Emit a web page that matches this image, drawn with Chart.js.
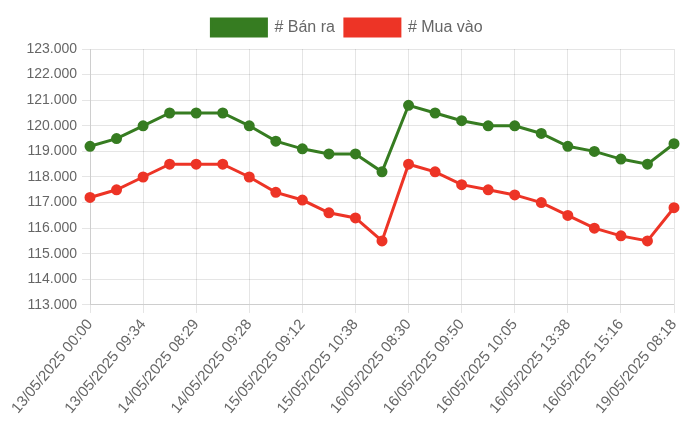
<!DOCTYPE html>
<html><head><meta charset="utf-8">
<script src="https://cdn.jsdelivr.net/npm/chart.js@4"></script>
<style>html,body{margin:0;padding:0;background:#fff}#wrap{width:700px;height:441px}</style>
</head><body><div id="wrap"><canvas id="c"></canvas></div>
<script>
const labels = ["13/05/2025 00:00","13/05/2025 08:45","13/05/2025 09:34","14/05/2025 00:00","14/05/2025 08:29","14/05/2025 09:05","14/05/2025 09:28","15/05/2025 00:00","15/05/2025 09:12","15/05/2025 09:45","15/05/2025 10:38","16/05/2025 00:00","16/05/2025 08:30","16/05/2025 09:15","16/05/2025 09:50","16/05/2025 10:00","16/05/2025 10:05","16/05/2025 11:20","16/05/2025 13:38","16/05/2025 14:30","16/05/2025 15:16","17/05/2025 00:00","19/05/2025 08:18"];
const banRa = [119200,119500,120000,120500,120500,120500,120000,119400,119100,118900,118900,118200,120800,120500,120200,120000,120000,119700,119200,119000,118700,118500,119300];
const muaVao = [117200,117500,118000,118500,118500,118500,118000,117400,117100,116600,116400,115500,118500,118200,117700,117500,117300,117000,116500,116000,115700,115500,116800];
const green = "rgb(54,124,33)";
const red = "rgb(237,52,38)";
Chart.defaults.font.family = "'Liberation Sans', Arial, sans-serif";
Chart.defaults.font.size = 14;
Chart.defaults.color = "#666";
new Chart(document.getElementById('c'), {
  type: 'line',
  data: { labels: labels, datasets: [
    { label: '# Bán ra', data: banRa, borderColor: green, backgroundColor: green, borderWidth: 3, pointRadius: 4, pointBackgroundColor: green, fill: false, tension: 0 },
    { label: '# Mua vào', data: muaVao, borderColor: red, backgroundColor: red, borderWidth: 3, pointRadius: 4, pointBackgroundColor: red, fill: false, tension: 0 }
  ]},
  options: {
    responsive: true, maintainAspectRatio: false, animation: false,
    layout: { padding: { right: 26, left: 20, top: 9, bottom: 21 } },
    plugins: { legend: { labels: { boxWidth: 55, boxHeight: 17, padding: 10, font: { size: 16 } } , padding: 0}, tooltip: { enabled: false } },
    scales: {
      x: { grid: { color: 'rgba(0,0,0,0.1)' }, ticks: { font: { size: 15 }, maxRotation: 50, minRotation: 50, autoSkip: true, maxTicksLimit: 12 } },
      y: { min: 113000, max: 123000, grid: { color: 'rgba(0,0,0,0.1)' },
           afterFit: s => { s.width = 70; },
           ticks: { stepSize: 1000, padding: 5, font: { size: 14 }, callback: v => v.toLocaleString('vi-VN') } }
    }
  },
  plugins: [{ id: 'legendGap', beforeInit(chart) { const fit = chart.legend.fit; chart.legend.fit = function() { fit.bind(chart.legend)(); this.height += 3; }; } }]
});
</script></body></html>
